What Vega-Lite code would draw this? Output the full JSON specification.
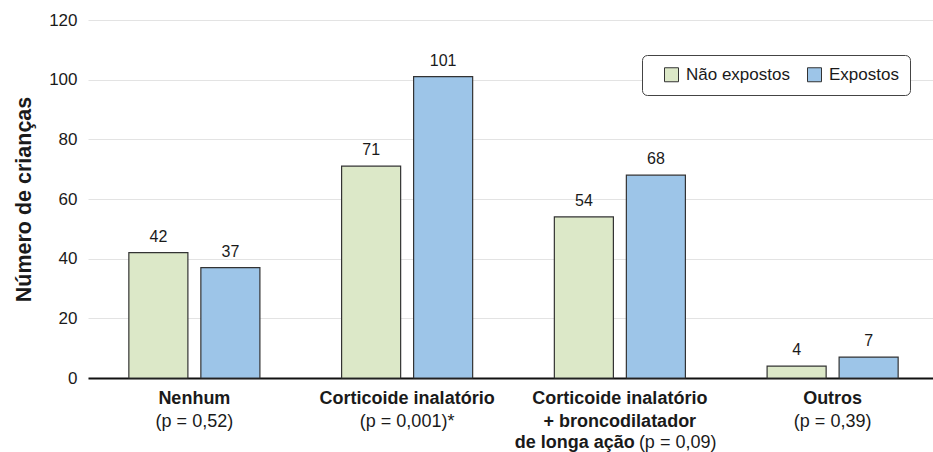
{
  "$schema": "https://vega.github.io/schema/vega-lite/v6.json",
  "autosize": {"type": "none"},
  "padding": {"left": 88, "top": 20, "right": 0, "bottom": 74},
  "width": 851,
  "height": 358,
  "config": {
    "font": "Liberation Sans",
    "view": {"stroke": null},
    "text": {"font": "Liberation Sans", "fontSize": 18, "color": "#1a1a1a"}
  },
  "datasets": {
    "bars": [
      {"group": "Nenhum", "series": "Não expostos", "value": 42},
      {"group": "Nenhum", "series": "Expostos", "value": 37},
      {"group": "Corticoide inalatório", "series": "Não expostos", "value": 71},
      {"group": "Corticoide inalatório", "series": "Expostos", "value": 101},
      {"group": "Corticoide inalatório + broncodilatador de longa ação", "series": "Não expostos", "value": 54},
      {"group": "Corticoide inalatório + broncodilatador de longa ação", "series": "Expostos", "value": 68},
      {"group": "Outros", "series": "Não expostos", "value": 4},
      {"group": "Outros", "series": "Expostos", "value": 7}
    ],
    "cats": [
      {"group": "Nenhum", "name1": "Nenhum", "name2": null, "name3": null, "p": "(p = 0,52)"},
      {"group": "Corticoide inalatório", "name1": "Corticoide inalatório", "name2": null, "name3": null, "p": "(p = 0,001)*"},
      {"group": "Corticoide inalatório + broncodilatador de longa ação", "name1": "Corticoide inalatório", "name2": "+ broncodilatador", "name3": "de longa ação", "p": "(p = 0,09)"},
      {"group": "Outros", "name1": "Outros", "name2": null, "name3": null, "p": "(p = 0,39)"}
    ]
  },
  "layer": [
    {
      "data": {"name": "bars"},
      "mark": {"type": "bar", "stroke": "#333333", "strokeWidth": 1.2},
      "encoding": {
        "x": {
          "field": "group", "type": "nominal",
          "scale": {"domain": ["Nenhum", "Corticoide inalatório", "Corticoide inalatório + broncodilatador de longa ação", "Outros"], "paddingInner": 0.384, "paddingOuter": 0.192},
          "axis": {"labels": false, "ticks": false, "title": null, "domainColor": "#111111", "domainWidth": 2}
        },
        "xOffset": {"field": "series", "type": "nominal", "scale": {"domain": ["Não expostos", "Expostos"], "paddingInner": 0.18, "paddingOuter": 0}},
        "y": {
          "field": "value", "type": "quantitative",
          "scale": {"domain": [0, 120]},
          "axis": {
            "values": [0, 20, 40, 60, 80, 100, 120],
            "domain": false, "ticks": false,
            "gridColor": "#e3e3e3", "gridWidth": 1,
            "labelFontSize": 17, "labelColor": "#1a1a1a", "labelPadding": 11,
            "title": "Número de crianças", "titleFontSize": 21.5, "titleFontWeight": "bold", "titleColor": "#1a1a1a", "titlePadding": 13
          }
        },
        "color": {
          "field": "series", "type": "nominal",
          "scale": {"domain": ["Não expostos", "Expostos"], "range": ["#dce8c8", "#9dc5e8"]},
          "legend": {
            "title": null, "orient": "none", "legendX": 554, "legendY": 35, "direction": "horizontal",
            "symbolType": "square", "symbolSize": 196, "symbolStrokeColor": "#333333", "symbolStrokeWidth": 1, "symbolOffset": 10,
            "labelFontSize": 17, "labelColor": "#1a1a1a", "labelOffset": 6, "columnPadding": 6,
            "padding": 11, "strokeColor": "#444444", "fillColor": "white", "cornerRadius": 5
          }
        }
      }
    },
    {
      "data": {"name": "bars"},
      "mark": {"type": "text", "baseline": "alphabetic", "dy": -11, "fontSize": 16},
      "encoding": {
        "x": {"field": "group", "type": "nominal"},
        "xOffset": {"field": "series", "type": "nominal"},
        "y": {"field": "value", "type": "quantitative"},
        "text": {"field": "value", "type": "quantitative"}
      }
    },
    {
      "data": {"name": "cats"},
      "mark": {"type": "text", "baseline": "middle", "dy": 21, "fontWeight": "bold"},
      "encoding": {
        "x": {"field": "group", "type": "nominal"},
        "y": {"datum": 0},
        "text": {"field": "name1"}
      }
    },
    {
      "data": {"name": "cats"},
      "transform": [{"filter": "datum.name2 == null"}],
      "mark": {"type": "text", "baseline": "middle", "dy": 44},
      "encoding": {
        "x": {"field": "group", "type": "nominal"},
        "y": {"datum": 0},
        "text": {"field": "p"}
      }
    },
    {
      "data": {"name": "cats"},
      "transform": [{"filter": "datum.name2 != null"}],
      "mark": {"type": "text", "baseline": "middle", "dy": 44, "fontWeight": "bold"},
      "encoding": {
        "x": {"field": "group", "type": "nominal"},
        "y": {"datum": 0},
        "text": {"field": "name2"}
      }
    },
    {
      "data": {"name": "cats"},
      "transform": [{"filter": "datum.name3 != null"}],
      "mark": {"type": "text", "baseline": "middle", "dy": 65, "dx": 15, "align": "right", "fontWeight": "bold"},
      "encoding": {
        "x": {"field": "group", "type": "nominal"},
        "y": {"datum": 0},
        "text": {"field": "name3"}
      }
    },
    {
      "data": {"name": "cats"},
      "transform": [{"filter": "datum.name3 != null"}],
      "mark": {"type": "text", "baseline": "middle", "dy": 65, "dx": 19, "align": "left"},
      "encoding": {
        "x": {"field": "group", "type": "nominal"},
        "y": {"datum": 0},
        "text": {"field": "p"}
      }
    }
  ]
}
